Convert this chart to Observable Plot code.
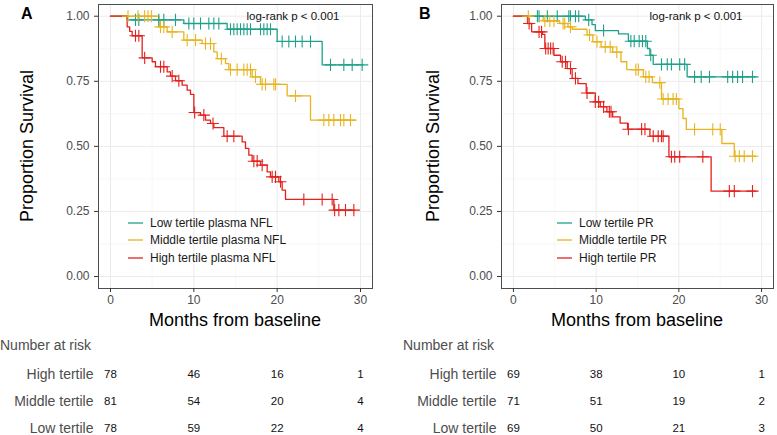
<!DOCTYPE html>
<html>
<head>
<meta charset="utf-8">
<script src="https://cdn.jsdelivr.net/npm/d3@7"></script>
<script src="https://cdn.jsdelivr.net/npm/@observablehq/plot@0.6"></script>
<style>
  html, body { margin: 0; padding: 0; background: #fff; }
  #root { position: relative; width: 777px; height: 435px; font-family: "Liberation Sans", Arial, sans-serif; overflow: hidden; }
  .abs { position: absolute; white-space: nowrap; }
  .c { transform: translate(-50%, -50%); }
  .lg { font-size: 12px; color: #1a1a1a; display: flex; align-items: center; height: 17.5px; }
  .lg svg { margin-right: 7px; }
</style>
</head>
<body>
<div id="root"></div>
<script>
// ---------------- Data ----------------
const groups = ["Low", "Middle", "High"];
const colors = ["#1fa08a", "#e8b420", "#e3211e"];
const riskTimes = [0, 10, 20, 30];
const riskRows = ["High tertile", "Middle tertile", "Low tertile"];

// Panel A: plasma NFL
const aLowT  = [0, 2.0, 8.8, 14.0, 20.0, 25.4, 30.3];
const aLowS  = [1, 0.986, 0.972, 0.950, 0.903, 0.813, 0.813];
const aLowC  = [3.0, 3.4, 5.8, 6.4, 7.8, 9.4, 10.0, 10.8, 11.8, 12.4, 13.0, 14.4, 14.8, 15.2, 15.6, 16.0, 16.4, 16.8, 18.0, 18.4, 18.8, 19.2, 20.6, 21.4, 22.2, 23.0, 24.0, 26.4, 28.0, 29.0, 30.2];

const aMidT  = [0, 5.8, 6.8, 8.8, 11.0, 12.4, 12.8, 13.8, 14.2, 17.0, 18.0, 21.2, 24.0, 29.4];
const aMidS  = [1, 0.959, 0.940, 0.908, 0.895, 0.863, 0.837, 0.818, 0.795, 0.767, 0.738, 0.694, 0.601, 0.601];
const aMidC  = [2.1, 3.3, 4.1, 4.5, 4.9, 6.0, 6.4, 7.4, 9.2, 10.2, 11.4, 12.0, 13.3, 14.4, 15.2, 16.0, 16.4, 16.8, 17.4, 18.2, 18.6, 19.6, 19.8, 22.2, 25.6, 26.2, 26.8, 27.6, 28.0, 28.8];

const aHighT = [0, 2.0, 2.3, 2.6, 3.8, 5.0, 5.4, 6.8, 7.2, 7.8, 8.6, 9.2, 9.6, 10.0, 10.8, 11.4, 12.0, 12.4, 13.6, 15.8, 16.2, 16.6, 17.0, 18.0, 18.8, 19.2, 20.2, 20.6, 21.0, 26.8, 29.3];
const aHighS = [1, 0.959, 0.942, 0.925, 0.840, 0.825, 0.806, 0.786, 0.770, 0.752, 0.735, 0.716, 0.700, 0.630, 0.620, 0.601, 0.588, 0.572, 0.539, 0.517, 0.492, 0.466, 0.443, 0.428, 0.402, 0.383, 0.364, 0.332, 0.296, 0.255, 0.255];
const aHighC = [3.0, 3.4, 4.1, 6.0, 6.4, 7.4, 8.2, 10.1, 11.2, 12.3, 14.0, 14.8, 17.2, 17.6, 18.2, 19.4, 19.8, 20.4, 23.2, 25.4, 26.6, 26.9, 27.4, 28.2, 29.2];

const aRiskHigh = [78, 46, 16, 1];
const aRiskMid  = [81, 54, 20, 4];
const aRiskLow  = [78, 59, 22, 4];
const aLegend = ["Low tertile plasma NFL", "Middle tertile plasma NFL", "High tertile plasma NFL"];

// Panel B: PR
const bLowT  = [0, 8.7, 9.5, 9.9, 12.7, 13.9, 16.2, 16.5, 16.9, 21.0, 29.3];
const bLowS  = [1, 0.986, 0.968, 0.945, 0.932, 0.904, 0.876, 0.850, 0.815, 0.767, 0.767];
const bLowC  = [2.9, 3.1, 4.1, 5.3, 6.7, 6.9, 7.5, 7.9, 9.1, 10.9, 14.2, 14.6, 15.2, 15.6, 16.0, 16.6, 17.9, 18.6, 19.1, 20.1, 20.7, 21.9, 22.7, 23.7, 25.9, 26.5, 27.1, 27.7, 28.9];

const bMidT  = [0, 3.6, 5.6, 6.6, 7.1, 8.9, 9.6, 10.6, 12.0, 13.0, 13.7, 15.7, 16.8, 17.9, 20.0, 20.5, 20.9, 25.2, 26.7, 29.3];
const bMidS  = [1, 0.982, 0.972, 0.959, 0.950, 0.928, 0.902, 0.882, 0.862, 0.825, 0.795, 0.767, 0.745, 0.682, 0.645, 0.607, 0.565, 0.511, 0.462, 0.462];
const bMidC  = [1.8, 3.8, 4.4, 4.9, 6.0, 6.2, 6.9, 9.2, 10.1, 11.1, 11.7, 12.5, 14.8, 15.1, 16.0, 16.4, 17.7, 18.1, 18.7, 19.3, 19.7, 21.9, 24.1, 25.0, 26.8, 27.3, 27.9, 28.9];

const bHighT = [0, 1.7, 2.2, 3.5, 3.8, 4.9, 5.7, 6.5, 7.1, 7.8, 8.8, 9.9, 10.5, 11.3, 12.0, 12.9, 13.8, 16.5, 18.8, 23.9, 29.3];
const bHighS = [1, 0.972, 0.940, 0.930, 0.876, 0.850, 0.825, 0.799, 0.761, 0.741, 0.705, 0.671, 0.652, 0.633, 0.613, 0.589, 0.566, 0.539, 0.460, 0.328, 0.328];
const bHighC = [1.9, 3.1, 3.4, 3.9, 4.2, 4.5, 4.8, 5.9, 6.3, 6.9, 7.5, 8.9, 9.9, 10.3, 10.9, 11.6, 11.8, 13.9, 15.5, 15.9, 16.9, 17.5, 17.9, 18.1, 19.1, 19.5, 20.1, 22.9, 26.1, 26.7, 28.9];

const bRiskHigh = [69, 38, 10, 1];
const bRiskMid  = [71, 51, 19, 2];
const bRiskLow  = [69, 50, 21, 3];
const bLegend = ["Low tertile PR", "Middle tertile PR", "High tertile PR"];

// ---------------- Helpers ----------------
const FONT = '"Liberation Sans", Arial, sans-serif';
const xDomain = [-1.44, 31.44];
const yDomain = [-0.046, 1.045];

function curveRows(group, T, S) {
  return T.map((t, i) => ({group, t, s: S[i]}));
}
function survAt(T, S, t) {
  let s = S[0];
  for (let i = 0; i < T.length; i++) if (T[i] <= t) s = S[i];
  return s;
}
function censorRows(group, T, S, C) {
  return C.map(t => ({group, t, s: survAt(T, S, t)}));
}

function survPlot(curves, width, ml, mr) {
  const lines = curves.flatMap(c => curveRows(c.g, c.T, c.S));
  const cens = curves.flatMap(c => censorRows(c.g, c.T, c.S, c.C));
  return Plot.plot({
    width, height: 330,
    marginLeft: ml, marginRight: mr, marginTop: 4, marginBottom: 42,
    style: {fontFamily: FONT, fontSize: "12px", background: "transparent", overflow: "visible"},
    x: {domain: xDomain, label: null},
    y: {domain: yDomain, label: null},
    color: {domain: groups, range: colors},
    marks: [
      Plot.gridX([5, 15, 25], {stroke: "#f3f3f3", strokeOpacity: 1, strokeWidth: 0.6}),
      Plot.gridY([0.125, 0.375, 0.625, 0.875], {stroke: "#f3f3f3", strokeOpacity: 1, strokeWidth: 0.6}),
      Plot.gridX([0, 10, 20, 30], {stroke: "#ebebeb", strokeOpacity: 1, strokeWidth: 1}),
      Plot.gridY([0, 0.25, 0.5, 0.75, 1], {stroke: "#ebebeb", strokeOpacity: 1, strokeWidth: 1}),
      Plot.line(lines, {x: "t", y: "s", z: "group", stroke: "group", curve: "step-after", strokeWidth: 1.3}),
      Plot.dot(cens, {x: "t", y: "s", stroke: "group", symbol: "plus", r: 4, strokeWidth: 1.1}),
      Plot.frame({stroke: "#4d4d4d", strokeWidth: 1}),
      Plot.axisX({ticks: [0, 10, 20, 30], tickSize: 4, tickPadding: 3, fontSize: 12, stroke: "#333", fill: "#4d4d4d", label: null}),
      Plot.axisY({ticks: [0, 0.25, 0.5, 0.75, 1], tickFormat: d3.format(".2f"), tickSize: 4, tickPadding: 5, fontSize: 12, stroke: "#333", fill: "#4d4d4d", label: null})
    ]
  });
}

function riskPlot(high, mid, low, width, ml, mr) {
  const rows = [];
  riskTimes.forEach((t, i) => {
    rows.push({t, row: riskRows[0], n: high[i]});
    rows.push({t, row: riskRows[1], n: mid[i]});
    rows.push({t, row: riskRows[2], n: low[i]});
  });
  return Plot.plot({
    width, height: 105,
    marginLeft: ml, marginRight: mr, marginTop: 43, marginBottom: 7,
    style: {fontFamily: FONT, fontSize: "14px", background: "transparent", overflow: "visible"},
    x: {domain: xDomain, axis: null},
    y: {type: "point", domain: riskRows, padding: 0, label: null},
    marks: [
      Plot.axisY({tickSize: 0, tickPadding: 5, fontSize: 14, fill: "#4d4d4d", label: null}),
      Plot.text(rows, {x: "t", y: "row", text: "n", fontSize: 11.5, fill: "#111"})
    ]
  });
}

function place(el, left, top) {
  el.style.position = "absolute";
  el.style.left = left + "px";
  el.style.top = top + "px";
  root.appendChild(el);
}
function addText(txt, css, cls) {
  const d = document.createElement("div");
  d.className = "abs " + (cls || "");
  d.textContent = txt;
  Object.assign(d.style, css);
  root.appendChild(d);
  return d;
}
function addLegend(labels, left, top) {
  const box = document.createElement("div");
  box.className = "abs";
  box.style.left = left + "px";
  box.style.top = top + "px";
  labels.forEach((lab, i) => {
    const row = document.createElement("div");
    row.className = "lg";
    row.innerHTML = `<svg width="15" height="4"><line x1="0" x2="15" y1="2" y2="2" stroke="${colors[i]}" stroke-width="1.3"/></svg><span>${lab}</span>`;
    box.appendChild(row);
  });
  root.appendChild(box);
}

const root = document.getElementById("root");

// Panel A
place(survPlot([
  {g: "Low", T: aLowT, S: aLowS, C: aLowC},
  {g: "Middle", T: aMidT, S: aMidS, C: aMidC},
  {g: "High", T: aHighT, S: aHighS, C: aHighC}
], 388, 98, 16), 0, 0);
place(riskPlot(aRiskHigh, aRiskMid, aRiskLow, 388, 98, 16), 0, 330);

// Panel B
place(survPlot([
  {g: "Low", T: bLowT, S: bLowS, C: bLowC},
  {g: "Middle", T: bMidT, S: bMidS, C: bMidC},
  {g: "High", T: bHighT, S: bHighS, C: bHighC}
], 387, 111, 4), 390, 0);
place(riskPlot(bRiskHigh, bRiskMid, bRiskLow, 387, 111, 4), 390, 330);

// Text annotations
addText("A", {left: "21px", top: "5px", fontSize: "16px", fontWeight: "bold", color: "#000"});
addText("B", {left: "419px", top: "5px", fontSize: "16px", fontWeight: "bold", color: "#000"});
addText("log-rank p < 0.001", {left: "293px", top: "16px", fontSize: "11.5px", color: "#111"}, "c");
addText("log-rank p < 0.001", {left: "696px", top: "16px", fontSize: "11.5px", color: "#111"}, "c");
addText("Proportion Survival", {left: "27px", top: "146px", fontSize: "18px", color: "#000", transform: "translate(-50%,-50%) rotate(-90deg)"});
addText("Proportion Survival", {left: "433px", top: "146px", fontSize: "18px", color: "#000", transform: "translate(-50%,-50%) rotate(-90deg)"});
addText("Months from baseline", {left: "235px", top: "320px", fontSize: "18px", color: "#000"}, "c");
addText("Months from baseline", {left: "637px", top: "320px", fontSize: "18px", color: "#000"}, "c");
addText("Number at risk", {left: "0px", top: "337px", fontSize: "14px", color: "#4d4d4d"});
addText("Number at risk", {left: "403px", top: "337px", fontSize: "14px", color: "#4d4d4d"});
addLegend(aLegend, 128, 214);
addLegend(bLegend, 557, 214);
</script>
</body>
</html>
